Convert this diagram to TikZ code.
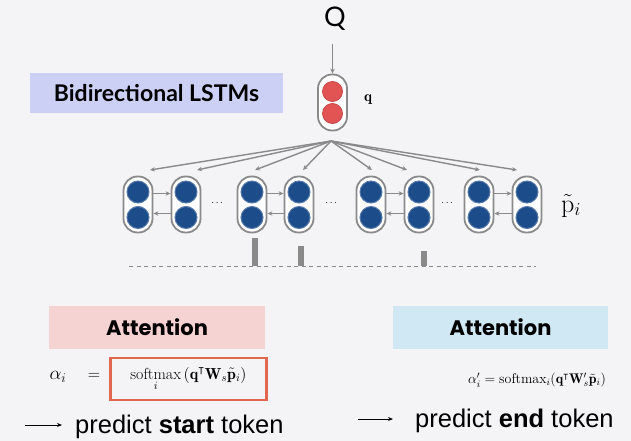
\RequirePackage{fix-cm}
\documentclass[tikz,border=0pt]{standalone}
\usepackage{amsmath,amssymb}
\usepackage{fontspec}
\newfontfamily\lato{Lato}
\newfontfamily\pop{Poppins}
\newfontfamily\helv{Liberation Sans}
\usetikzlibrary{arrows.meta}
\definecolor{bgc}{HTML}{F4F4F7}
\definecolor{lav}{HTML}{CDD0F5}
\definecolor{pinkc}{HTML}{F5D3D3}
\definecolor{bluec}{HTML}{CFE8F3}
\definecolor{redbox}{HTML}{E0684F}
\definecolor{grayc}{HTML}{8A8A8A}
\definecolor{dblue}{HTML}{1D4C8A}
\definecolor{eblue}{HTML}{5679AA}
\definecolor{redc}{HTML}{E25454}
\definecolor{ered}{HTML}{C94848}
\tikzset{
  capsule/.style={draw=grayc, line width=1.8pt, fill=white, rounded corners=14pt,
    minimum width=29pt, minimum height=56pt, inner sep=0pt},
  bluedot/.style={circle, fill=dblue, draw=eblue, line width=1pt, minimum size=22pt, inner sep=0pt},
  reddot/.style={circle, fill=redc, draw=ered, line width=0.8pt, minimum size=20pt, inner sep=0pt},
  conn/.style={draw=grayc, line width=1.4pt, -{Stealth[length=5pt,width=4.5pt]}},
  headbox/.style={minimum height=43pt, inner sep=0pt},
  bar/.style={fill=grayc, draw=none},
  bigtext/.style={font=\helv\fontsize{25.5}{28}\selectfont, anchor=base west, inner sep=0pt},
  thinarrow/.style={draw=black, line width=1pt, -{Stealth[length=5pt,width=4pt]}}
}
\begin{document}
\begin{tikzpicture}[x=1pt,y=-1pt]
\fill[bgc] (0,0) rectangle (631,441);
\useasboundingbox (0,0) rectangle (631,441);

% Q and q encoder
\node (Q) at (335,19) {\lato\fontsize{27}{30}\selectfont Q};
\node[capsule, minimum height=56pt] (qc) at (332.5,102.5) {};
\node[reddot] (qa) at (332.5,91.5) {};
\node[reddot] (qb) at (332.5,113.5) {};
\node (ql) at (368,100) {\fontsize{15}{17}\selectfont$\mathbf{q}$};
\coordinate (qtop) at (332.5,44);
\draw[conn] (qtop) -- (qc.north);

% Bidirectional LSTMs label
\node[fill=lav, headbox, minimum width=253pt, minimum height=40pt] (bl) at (156.5,93)
  {\lato\bfseries\fontsize{23}{25}\selectfont Bidirectional LSTMs};

% passage capsules
\foreach \n/\x in {1/138,2/186,3/252,4/299,5/371,6/419,7/479,8/527}{
  \node[capsule] (c\n) at (\x,204.5) {};
  \node[bluedot] (c\n a) at (\x,192) {};
  \node[bluedot] (c\n b) at (\x,217.5) {};
}
\foreach \a/\b in {1/2,3/4,5/6,7/8}{
  \draw[conn] ([yshift=11pt]c\a.east) -- ([yshift=11pt]c\b.west);
  \draw[conn] ([yshift=-9pt]c\b.west) -- ([yshift=-9pt]c\a.east);
}
\node (d1) at (218,203) {$\cdots$};
\node (d2) at (332,203) {$\cdots$};
\node (d3) at (448,203) {$\cdots$};
\node (pl) at (571,206) {\fontsize{26}{28}\selectfont$\tilde{\mathrm{p}}_i$};

% fan of arrows
\coordinate (apex) at (331,141);
\foreach \n/\x in {1/150,2/197,3/255,4/303,5/372,6/407,7/480,8/517}{
  \coordinate (t\n) at (\x,170);
  \draw[conn] (apex) -- (t\n);
}

% attention bars and dashed baseline
\coordinate (dl) at (129,266);
\coordinate (dr) at (536,266);
\draw[grayc, line width=1pt, dash pattern=on 4pt off 3.5pt] (dl) -- (dr);
\fill[bar] (252,238) rectangle (257.5,266);
\fill[bar] (298,246) rectangle (303.5,266);
\fill[bar] (421,251) rectangle (427,266);

% attention boxes
\node[fill=pinkc, headbox, minimum width=216pt] (attL) at (157,327.5)
  {\pop\bfseries\fontsize{21}{23}\selectfont Attention};
\node[fill=bluec, headbox, minimum width=215pt] (attR) at (500.5,327.5)
  {\pop\bfseries\fontsize{21}{23}\selectfont Attention};

% formulas
\node (al) at (58,377) {\fontsize{19}{21}\selectfont$\alpha_i$};
\node (eq) at (94,376) {\fontsize{17}{19}\selectfont$=$};
\node[draw=redbox, line width=2.6pt, minimum width=156pt, minimum height=42pt, inner sep=0pt] (sm) at (188.5,379)
  {\fontsize{16}{18}\selectfont$\displaystyle\operatorname*{softmax}_i\left(\mathbf{q}^{\intercal}\mathbf{W}_s\tilde{\mathbf{p}}_i\right)$};
\node (fr) at (537,380)
  {\fontsize{14}{16}\selectfont$\alpha'_i=\mathrm{softmax}_i(\mathbf{q}^{\intercal}\mathbf{W}'_s\tilde{\mathbf{p}}_i)$};

% predict lines
\node[bigtext] (ps) at (75,433) {predict \textbf{start} token};
\coordinate (as) at (25,425);
\draw[thinarrow] (as) -- (62,425);
\node[bigtext] (pe) at (415,427) {predict \textbf{end} token};
\coordinate (ae) at (358,419);
\draw[thinarrow] (ae) -- (393,419);
\end{tikzpicture}
\end{document}
